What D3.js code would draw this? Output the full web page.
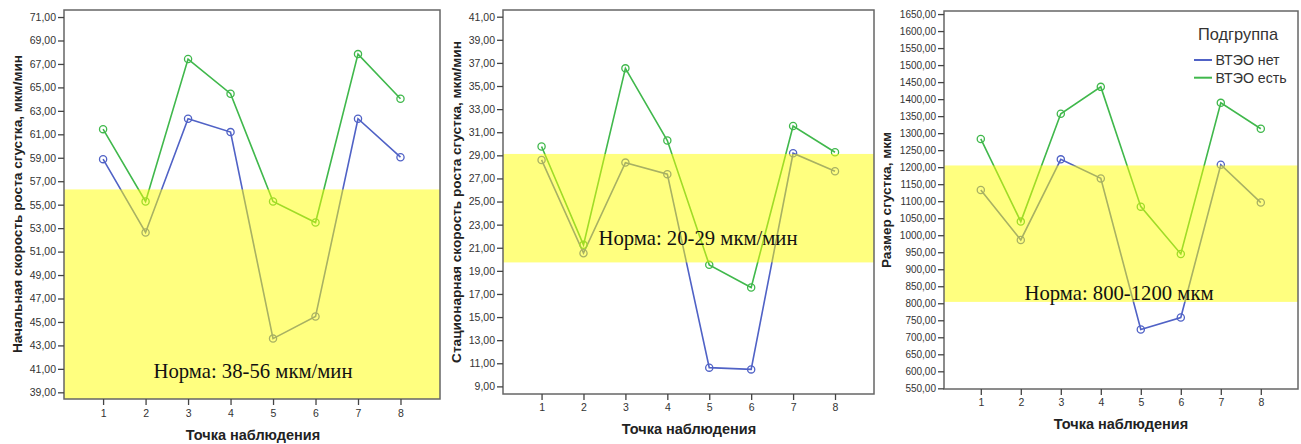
<!DOCTYPE html>
<html><head><meta charset="utf-8">
<script src="https://cdn.jsdelivr.net/npm/d3@7"></script>
<style>body{margin:0;background:#fff;} svg{display:block;}</style>
</head><body>
<svg id="c" width="1301" height="444"></svg>
<script>
const points = [1,2,3,4,5,6,7,8];
const seriesNames = ["ВТЭО нет","ВТЭО есть"];
const legendTitle = "Подгруппа";
const xTitle = "Точка наблюдения";

const p1Title = "Начальная скорость роста сгустка, мкм/мин";
const p1No  = [58.88,52.63,62.33,61.19,43.58,45.46,62.33,59.05];
const p1Yes = [61.44,55.27,67.42,64.46,55.27,53.48,67.84,64.03];
const p1Ticks = d3.range(39,71.01,2);
const p1Norm = [38,56.3];
const p1NormLabel = "Норма: 38-56 мкм/мин";

const p2Title = "Стационарная скорость роста сгустка, мкм/мин";
const p2No  = [28.6,20.53,28.37,27.37,10.62,10.47,29.18,27.62];
const p2Yes = [29.76,21.25,36.53,30.28,19.52,17.56,31.54,29.27];
const p2Ticks = d3.range(9,41.01,2);
const p2Norm = [19.73,29.12];
const p2NormLabel = "Норма: 20-29 мкм/мин";

const p3Title = "Размер сгустка, мкм";
const p3No  = [1133,986,1223,1167,723,758,1207,1096];
const p3Yes = [1283,1040,1357,1436,1084,945,1389,1313];
const p3Ticks = d3.range(550,1650.1,50);
const p3Norm = [804,1205];
const p3NormLabel = "Норма: 800-1200 мкм";

const colors = ["#5062c6","#40b84c"];
const fmt = v => d3.format(".2f")(v).replace(".", ",");

const panels = [
  {title:p1Title, no:p1No, yes:p1Yes, ticks:p1Ticks, norm:p1Norm, label:p1NormLabel,
   box:{l:64,r:440,t:10,b:399}, yDom:[38.43,71.6], tickFont:10.5,
   titleX:17, titleY:204, xtY:435, xtX:253, normX:253, normY:371, tickLabY:413},
  {title:p2Title, no:p2No, yes:p2Yes, ticks:p2Ticks, norm:p2Norm, label:p2NormLabel,
   box:{l:503,r:874,t:10,b:394}, yDom:[8.34,41.58], tickFont:10.5,
   titleX:456, titleY:202, xtY:429, xtX:689, normX:698, normY:238, tickLabY:407},
  {title:p3Title, no:p3No, yes:p3Yes, ticks:p3Ticks, norm:p3Norm, label:p3NormLabel,
   box:{l:944,r:1298,t:11,b:389}, yDom:[548,1659], tickFont:10,
   titleX:886, titleY:200, xtY:424, xtX:1121, normX:1119, normY:293, tickLabY:402, legend:true}
];

const svg = d3.select("#c");

panels.forEach(p => {
  const g = svg.append("g");
  const x = d3.scaleLinear().domain([0.08,8.93]).range([p.box.l,p.box.r]);
  const y = d3.scaleLinear().domain(p.yDom).range([p.box.b,p.box.t]);

  [p.no, p.yes].forEach((vals,i) => {
    const data = points.map((pt,j)=>({x:pt,y:vals[j]}));
    g.append("path").datum(data)
      .attr("fill","none").attr("stroke",colors[i]).attr("stroke-width",1.6)
      .attr("d", d3.line().x(d=>x(d.x)).y(d=>y(d.y)));
    g.selectAll(null).data(data).enter().append("circle")
      .attr("cx",d=>x(d.x)).attr("cy",d=>y(d.y)).attr("r",3.6)
      .attr("fill","none").attr("stroke",colors[i]).attr("stroke-width",1.3);
  });

  const lo = Math.max(p.norm[0], p.yDom[0]), hi = Math.min(p.norm[1], p.yDom[1]);
  g.append("rect").attr("x",p.box.l).attr("width",p.box.r-p.box.l)
    .attr("y",y(hi)).attr("height",y(lo)-y(hi))
    .attr("fill","#ffff00").attr("opacity",0.5);

  g.append("text").attr("x",p.normX).attr("y",p.normY).attr("dy","0.35em")
    .attr("text-anchor","middle").attr("font-family","'Liberation Serif','Times New Roman',serif")
    .attr("font-size",20.7).attr("fill","#111").text(p.label);

  g.append("rect").attr("x",p.box.l).attr("y",p.box.t)
    .attr("width",p.box.r-p.box.l).attr("height",p.box.b-p.box.t)
    .attr("fill","none").attr("stroke","#666").attr("stroke-width",1.5);

  const ya = g.append("g").attr("transform",`translate(${p.box.l},0)`)
    .call(d3.axisLeft(y).tickValues(p.ticks).tickFormat(fmt).tickSize(6).tickPadding(2));
  ya.select(".domain").remove();
  ya.selectAll("line").attr("stroke","#444").attr("stroke-width",1.3);
  ya.selectAll("text").attr("font-family","'Liberation Sans',Arial,sans-serif")
    .attr("font-size",p.tickFont).attr("fill","#333");

  const xa = g.append("g").attr("transform",`translate(0,${p.box.b})`)
    .call(d3.axisBottom(x).tickValues(points).tickFormat(d3.format("d")).tickSize(6).tickPadding(2));
  xa.select(".domain").remove();
  xa.selectAll("line").attr("stroke","#444").attr("stroke-width",1.3);
  xa.selectAll("text").attr("font-family","'Liberation Sans',Arial,sans-serif")
    .attr("font-size",10.5).attr("fill","#333").attr("dy",null)
    .attr("y", p.tickLabY - p.box.b).attr("dominant-baseline","central");

  g.append("text").attr("transform",`translate(${p.titleX},${p.titleY}) rotate(-90)`)
    .attr("text-anchor","middle").attr("dy","0.35em")
    .attr("font-family","'Liberation Sans',Arial,sans-serif").attr("font-weight","bold")
    .attr("font-size",13.6).attr("fill","#222").text(p.title);
  g.append("text").attr("x",p.xtX).attr("y",p.xtY).attr("dy","0.35em")
    .attr("text-anchor","middle")
    .attr("font-family","'Liberation Sans',Arial,sans-serif").attr("font-weight","bold")
    .attr("font-size",14.5).attr("fill","#222").text(xTitle);

  if (p.legend) {
    const lg = g.append("g");
    lg.append("text").attr("x",1238).attr("y",34).attr("dy","0.35em").attr("text-anchor","middle")
      .attr("font-family","'Liberation Sans',Arial,sans-serif").attr("font-size",16.4).attr("fill","#333")
      .text(legendTitle);
    seriesNames.forEach((n,i)=>{
      const yy = 60 + i*17.7;
      lg.append("line").attr("x1",1194).attr("x2",1212).attr("y1",yy).attr("y2",yy)
        .attr("stroke",colors[i]).attr("stroke-width",2);
      lg.append("text").attr("x",1215.5).attr("y",yy).attr("dy","0.35em")
        .attr("font-family","'Liberation Sans',Arial,sans-serif").attr("font-size",14.2).attr("fill","#333")
        .text(n);
    });
  }
});
</script>
</body></html>
